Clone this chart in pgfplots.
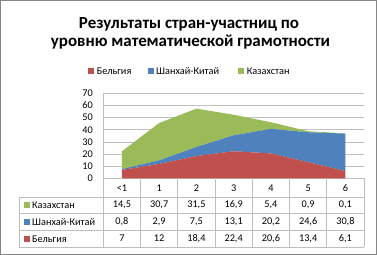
\documentclass[border=0pt]{standalone}
\usepackage{fontspec}
\setmainfont{Carlito}
\usepackage{pgfplots}
\usepackage{pgfplotstable}
\pgfplotsset{compat=1.18}
\definecolor{belc}{HTML}{C0504D}
\definecolor{shac}{HTML}{4F81BD}
\definecolor{kazc}{HTML}{9BBB59}
\definecolor{gridc}{HTML}{BFBFBF}
\definecolor{framec}{HTML}{868686}
\newcommand{\fs}{\fontsize{10.3}{12}\selectfont}
\pgfplotstableread{
x bel sha kaz
0 7 0.8 14.5
1 12 2.9 30.7
2 18.4 7.5 31.5
3 22.4 13.1 16.9
4 20.6 20.2 5.4
5 13.4 24.6 0.9
6 6.1 30.8 0.1
}\data
\begin{document}
\begin{tikzpicture}
\useasboundingbox (0,0) rectangle (377bp,255bp);
\begin{axis}[
  at={(103.3bp,76.5bp)}, anchor=south west,
  scale only axis, width=260.7bp, height=85.2bp,
  xmin=-0.5, xmax=6.5, ymin=0, ymax=70,
  xtick={0,...,6}, xticklabels={<1,1,2,3,4,5,6},
  ytick={0,10,...,70},
  ymajorgrids, grid style={gridc, line width=0.7bp},
  axis x line*=bottom, axis y line*=left,
  axis line style={gridc, line width=0.7bp},
  major tick length=0pt,
  /pgf/number format/assume math mode=true,
  tick label style={font=\fs, text=black},
  xticklabel style={anchor=center, yshift=-9.3bp},
  yticklabel style={anchor=east, xshift=-7bp},
  stack plots=y,
]
\addplot[fill=belc, draw=none] table[x=x, y=bel] {\data} \closedcycle;
\addplot[fill=shac, draw=none] table[x=x, y=sha] {\data} \closedcycle;
\addplot[fill=kazc, draw=none] table[x=x, y=kaz] {\data} \closedcycle;
\end{axis}
\begin{axis}[
  at={(103.3bp,76.5bp)}, anchor=south west,
  scale only axis, width=260.7bp, height=85.2bp,
  xmin=-0.5, xmax=6.5, ymin=0, ymax=70,
  hide axis, clip=false,
  /pgf/number format/.cd, use comma, 1000 sep={}, assume math mode=true, /pgfplots/.cd,
  nodes near coords, point meta=explicit,
  nodes near coords align=center,
  every node near coord/.append style={anchor=center, font=\fs, text=black, text height=6.8bp, text depth=1.5bp, inner sep=0pt},
]
\addplot[draw=none, mark=none] table[x=x, y expr=-22.0, meta=kaz] {\data};
\addplot[draw=none, mark=none] table[x=x, y expr=-35.74, meta=sha] {\data};
\addplot[draw=none, mark=none] table[x=x, y expr=-49.46, meta=bel] {\data};
\end{axis}
\begin{scope}[x=1bp, y=1bp]
% data table lines
\begin{scope}[gridc, line width=0.7bp]
\foreach \py in {197,213.5,230.3,247} {
  \draw (19,255-\py) -- (364,255-\py);
}
\draw (19,58) -- (19,8);
\foreach \k in {0,...,7} {
  \draw ({103.3+37.243*\k},76.5) -- ({103.3+37.243*\k},8);
}
\end{scope}
% table row labels
\fill[kazc] (24,{255-205.3-3}) rectangle (30,{255-205.3+3});
\fill[shac] (24,{255-222-3}) rectangle (30,{255-222+3});
\fill[belc] (24,{255-238.7-3}) rectangle (30,{255-238.7+3});
\node[anchor=base west, inner sep=0pt, font=\fs] at (32,{255-205.3-3.4}) {Казахстан};
\node[anchor=base west, inner sep=0pt, font=\fs] at (32,{255-222-3.4}) {Шанхай-Китай};
\node[anchor=base west, inner sep=0pt, font=\fs] at (32,{255-238.7-3.4}) {Бельгия};
% legend
\fill[belc] (88.3,181) rectangle (94.3,187);
\node[anchor=base west, inner sep=0pt, font=\fs] at (96.7,181) {Бельгия};
\fill[shac] (147.7,181) rectangle (153.7,187);
\node[anchor=base west, inner sep=0pt, font=\fs] at (156,181) {Шанхай-Китай};
\fill[kazc] (238.3,181) rectangle (244.3,187);
\node[anchor=base west, inner sep=0pt, font=\fs] at (246.7,181) {Казахстан};
% title
\node[anchor=base, inner sep=0pt, font=\fontsize{17}{19}\selectfont\bfseries] at (189,227) {Результаты стран-участниц по};
\node[anchor=base, inner sep=0pt, font=\fontsize{17}{19}\selectfont\bfseries] at (190.5,208.5) {уровню математической грамотности};
% frame
\draw[framec, line width=1.2bp] (0.6,0.6) rectangle (376.4,254.4);
\end{scope}
\end{tikzpicture}
\end{document}
